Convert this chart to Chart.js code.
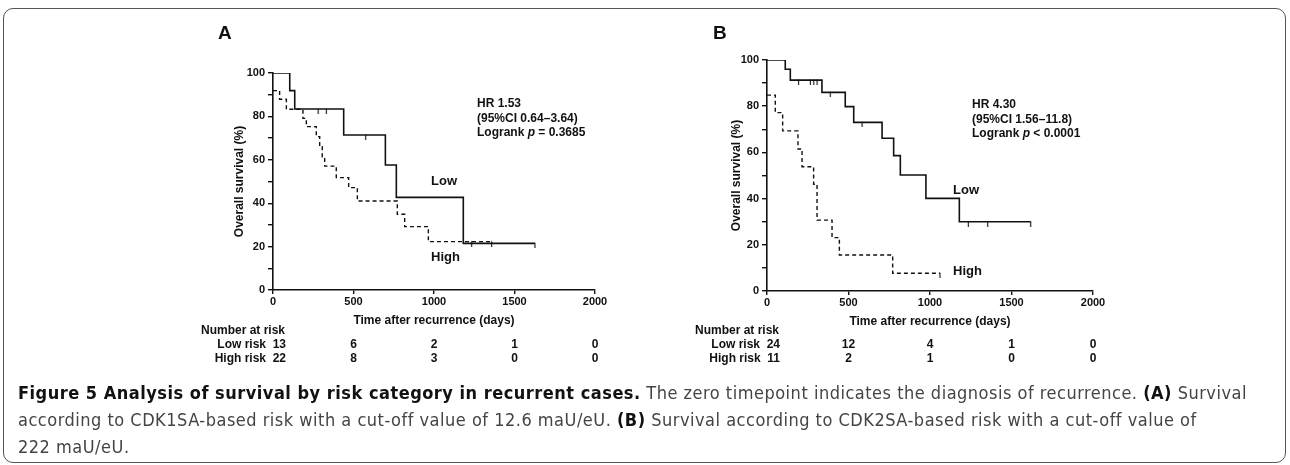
<!DOCTYPE html>
<html>
<head>
<meta charset="utf-8">
<script src="https://cdn.jsdelivr.net/npm/chart.js@4.4.1/dist/chart.umd.min.js"></script>
<style>
  body { margin: 0; width: 1290px; height: 465px; position: relative; background: #fff; overflow: hidden; font-family: "Liberation Sans", Arial, sans-serif; }
  .frame { position: absolute; left: 3px; top: 8px; width: 1281px; height: 453px; border: 1.5px solid #555; border-radius: 10px; }
  canvas { position: absolute; }
  .t { position: absolute; font-weight: bold; color: #111; font-size: 12px; line-height: 14.5px; white-space: nowrap; }
  .letter { position: absolute; font-weight: bold; font-size: 19px; color: #111; }
  .caption { position: absolute; left: 18px; top: 379px; font-family: "DejaVu Sans Condensed", "Liberation Sans Narrow", sans-serif; font-size: 18px; letter-spacing: 0.5px; line-height: 27px; color: #444; white-space: nowrap; }
  .caption b { color: #111; }
</style>
</head>
<body>
<div class="frame"></div>
<canvas id="chartA" style="left:180px;top:40px" width="440" height="340"></canvas>
<canvas id="chartB" style="left:676px;top:40px" width="440" height="340"></canvas>

<div class="letter" style="left:218px;top:22px">A</div>
<div class="letter" style="left:713px;top:22px">B</div>

<div class="t" style="left:477px;top:96px">HR 1.53<br>(95%CI 0.64–3.64)<br>Logrank <i>p</i> = 0.3685</div>
<div class="t" style="left:972px;top:97px">HR 4.30<br>(95%CI 1.56–11.8)<br>Logrank <i>p</i> &lt; 0.0001</div>
<div class="t" style="left:431px;top:174px;font-size:13px">Low</div>
<div class="t" style="left:431px;top:250px;font-size:13px">High</div>
<div class="t" style="left:953px;top:183px;font-size:13px">Low</div>
<div class="t" style="left:953px;top:264px;font-size:13px">High</div>

<div class="caption"><b>Figure 5 Analysis of survival by risk category in recurrent cases.</b> The zero timepoint indicates the diagnosis of recurrence. <b>(A)</b> Survival<br>according to CDK1SA-based risk with a cut-off value of 12.6 maU/eU. <b>(B)</b> Survival according to CDK2SA-based risk with a cut-off value of<br>222 maU/eU.</div>

<script>
// time axis ticks and numbers at risk
const riskTimes = [0, 500, 1000, 1500, 2000];
const aRiskLow = [13, 6, 2, 1, 0];
const aRiskHigh = [22, 8, 3, 0, 0];
const bRiskLow = [24, 12, 4, 1, 0];
const bRiskHigh = [11, 2, 1, 0, 0];

// panel A: CDK1SA
const aLowDays = [0, 104, 135, 439, 698, 766, 1182, 1627];
const aLowSurv = [100, 91.9, 83.4, 71.4, 57.6, 42.7, 21.5, 21.5];
const aLowCensDays = [280, 331, 576, 1627];
const aLowCensSurv = [83.4, 83.4, 71.4, 21.5];
const aHighDays = [0, 41, 83, 186, 207, 269, 290, 306, 321, 393, 470, 524, 772, 818, 965, 1358];
const aHighSurv = [91.9, 87.9, 83.3, 79.1, 75.3, 70.7, 66.0, 61.4, 57.1, 51.8, 47.2, 41.0, 34.9, 29.2, 22.3, 22.3];
const aHighCensDays = [1234, 1358];
const aHighCensSurv = [22.3, 22.3];

// panel B: CDK2SA
const bLowDays = [0, 112, 143, 337, 480, 532, 706, 777, 818, 975, 1180, 1618];
const bLowSurv = [100, 96.0, 91.3, 86.0, 79.8, 73.0, 66.1, 58.6, 50.2, 40.1, 30.0, 30.0];
const bLowCensDays = [194, 266, 287, 307, 388, 583, 1235, 1354, 1618];
const bLowCensSurv = [91.3, 91.3, 91.3, 91.3, 86.0, 73.0, 30.0, 30.0, 30.0];
const bHighDays = [0, 51, 96, 190, 215, 286, 307, 399, 444, 771, 1061];
const bHighSurv = [84.8, 77.2, 69.3, 61.5, 53.8, 46.2, 30.7, 23.1, 15.6, 7.7, 7.7];
const bHighCensDays = [1061];
const bHighCensSurv = [7.7];

Chart.defaults.font.family = '"Liberation Sans", Arial, sans-serif';
Chart.defaults.font.weight = 'bold';
Chart.defaults.color = '#111';

const pts = (xs, ys) => xs.map((x, i) => ({ x: x, y: ys[i] }));

// censor mark: short vertical tick hanging below the curve
const censorMark = document.createElement('canvas');
censorMark.width = 3;
censorMark.height = 10;
(function () {
  const c = censorMark.getContext('2d');
  c.strokeStyle = '#111';
  c.lineWidth = 1.1;
  c.beginPath();
  c.moveTo(1.5, 4.5);
  c.lineTo(1.5, 10);
  c.stroke();
})();

const riskTable = {
  id: 'riskTable',
  afterDraw(chart, args, opts) {
    const ctx = chart.ctx;
    const x = chart.scales.x;
    const x0 = x.getPixelForValue(0);
    ctx.save();
    ctx.font = 'bold 12px "Liberation Sans", Arial, sans-serif';
    ctx.fillStyle = '#111';
    ctx.textBaseline = 'middle';
    ctx.textAlign = 'left';
    ctx.fillText('Number at risk', x0 - 72, opts.y0);
    const rows = [['Low risk', opts.low], ['High risk', opts.high]];
    rows.forEach((r, k) => {
      const y = opts.y0 + 14 * (k + 1);
      ctx.textAlign = 'right';
      ctx.fillText(r[0] + '  ' + r[1][0], x0 + 13, y);
      ctx.textAlign = 'center';
      for (let i = 1; i < riskTimes.length; i++) {
        ctx.fillText(String(r[1][i]), x.getPixelForValue(riskTimes[i]), y);
      }
    });
    ctx.restore();
  }
};

function makePanel(id, d, pad, yWidth) {
  return new Chart(document.getElementById(id), {
    type: 'scatter',
    data: {
      datasets: [
        { data: pts(d.lowDays, d.lowSurv), showLine: true, stepped: 'before', borderColor: '#111', borderWidth: 1.6, pointRadius: 0 },
        { data: pts(d.highDays, d.highSurv), showLine: true, stepped: 'before', borderColor: '#111', borderWidth: 1.4, borderDash: [4, 3], pointRadius: 0 },
        { data: pts(d.lowCensDays, d.lowCensSurv), showLine: false, pointStyle: censorMark, radius: 3 },
        { data: pts(d.highCensDays, d.highCensSurv), showLine: false, pointStyle: censorMark, radius: 3 }
      ]
    },
    options: {
      responsive: false,
      animation: false,
      events: [],
      layout: { padding: pad },
      plugins: {
        legend: { display: false },
        tooltip: { enabled: false },
        riskTable: { low: d.riskLow, high: d.riskHigh, y0: 291 }
      },
      scales: {
        x: {
          type: 'linear', min: 0, max: 2000,
          afterFit: s => { s.height = 38; },
          border: { display: true, color: '#111', width: 1.6 },
          grid: { drawOnChartArea: false, drawTicks: true, tickLength: 4, color: '#111', lineWidth: 1.4 },
          ticks: { stepSize: 500, padding: 1, font: { size: 11, weight: 'bold' }, color: '#111', maxRotation: 0,
                   callback: v => String(v) },
          title: { display: true, text: 'Time after recurrence (days)', font: { size: 12, weight: 'bold' }, color: '#111', padding: 0 }
        },
        y: {
          min: 0, max: 100,
          afterFit: s => { s.width = yWidth; },
          border: { display: true, color: '#111', width: 1.6 },
          grid: { drawOnChartArea: false, drawTicks: true, tickLength: 5, color: '#111', lineWidth: 1.4 },
          ticks: { stepSize: 10, padding: 3, font: { size: 11, weight: 'bold' }, color: '#111',
                   callback: v => (v % 20 === 0 ? String(v) : '') },
          title: { display: true, text: 'Overall survival (%)', font: { size: 12, weight: 'bold' }, color: '#111', padding: 0 }
        }
      }
    },
    plugins: [riskTable]
  });
}

makePanel('chartA', {
  lowDays: aLowDays, lowSurv: aLowSurv, highDays: aHighDays, highSurv: aHighSurv,
  lowCensDays: aLowCensDays, lowCensSurv: aLowCensSurv, highCensDays: aHighCensDays, highCensSurv: aHighCensSurv,
  riskLow: aRiskLow, riskHigh: aRiskHigh
}, { left: 52, right: 25, top: 33, bottom: 52 }, 41);

makePanel('chartB', {
  lowDays: bLowDays, lowSurv: bLowSurv, highDays: bHighDays, highSurv: bHighSurv,
  lowCensDays: bLowCensDays, lowCensSurv: bLowCensSurv, highCensDays: bHighCensDays, highCensSurv: bHighCensSurv,
  riskLow: bRiskLow, riskHigh: bRiskHigh
}, { left: 53, right: 23, top: 20, bottom: 51 }, 38);
</script>
</body>
</html>
